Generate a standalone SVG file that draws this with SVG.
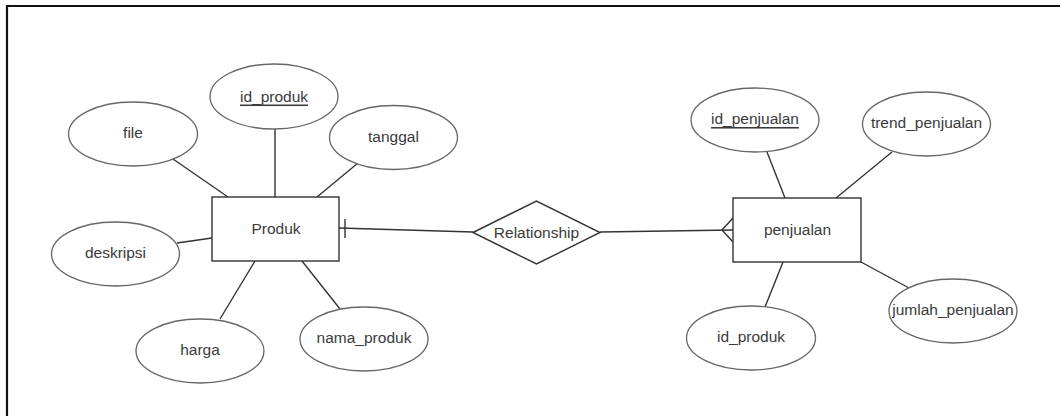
<svg xmlns="http://www.w3.org/2000/svg" width="1060" height="416" viewBox="0 0 1060 416">
<style>
  .frame{stroke:#111;stroke-width:2.2;fill:none}
  .ent{fill:#fff;stroke:#333;stroke-width:1.4}
  .attr{fill:#fff;stroke:#666;stroke-width:1.3}
  .rel{fill:#fff;stroke:#333;stroke-width:1.4}
  .ln{stroke:#333;stroke-width:1.4;fill:none}
  .t{font-family:"Liberation Sans",Arial,sans-serif;font-size:15.5px;fill:#3a3a3a;text-anchor:middle;dominant-baseline:central}
  .u{text-decoration:underline}
</style>
<rect x="0" y="0" width="1060" height="416" fill="#fff"/>
<path class="frame" d="M7,416 V6 H1060"/>
<g id="connectors">
  <line class="ln" x1="173" y1="159" x2="228" y2="197"/>
  <line class="ln" x1="275" y1="129" x2="275" y2="197"/>
  <line class="ln" x1="358" y1="163" x2="317" y2="197"/>
  <line class="ln" x1="177" y1="243" x2="212" y2="238"/>
  <line class="ln" x1="220" y1="319" x2="255" y2="261"/>
  <line class="ln" x1="340" y1="309" x2="302" y2="261"/>
  <line class="ln" x1="339" y1="228" x2="473" y2="232"/>
  <line class="ln" x1="345" y1="219" x2="345" y2="238"/>
  <line class="ln" x1="600" y1="232" x2="733" y2="230"/>
  <path class="ln" d="M733,218 L722,230 L733,242"/>
  <line class="ln" x1="767" y1="152" x2="785" y2="198"/>
  <line class="ln" x1="892" y1="152" x2="836" y2="198"/>
  <line class="ln" x1="765" y1="307" x2="783" y2="262"/>
  <line class="ln" x1="909" y1="288" x2="861" y2="262"/>
</g>
<g id="produk">
  <rect class="ent" x="212" y="197" width="127" height="64"/>
  <text class="t" x="276" y="228">Produk</text>
</g>
<g id="id_produk">
  <ellipse class="attr" cx="274" cy="96.5" rx="64" ry="32.5"/>
  <text class="t u" x="274" y="96">id_produk</text>
</g>
<g id="file">
  <ellipse class="attr" cx="133" cy="134" rx="64.5" ry="32"/>
  <text class="t" x="133" y="132.5">file</text>
</g>
<g id="tanggal">
  <ellipse class="attr" cx="393.5" cy="137.5" rx="64" ry="32"/>
  <text class="t" x="393.5" y="136">tanggal</text>
</g>
<g id="deskripsi">
  <ellipse class="attr" cx="115.5" cy="254" rx="64" ry="32"/>
  <text class="t" x="115.5" y="252.5">deskripsi</text>
</g>
<g id="harga">
  <ellipse class="attr" cx="200" cy="351" rx="64" ry="32"/>
  <text class="t" x="200" y="349.5">harga</text>
</g>
<g id="nama_produk">
  <ellipse class="attr" cx="364" cy="339" rx="64" ry="32"/>
  <text class="t" x="364" y="337.5">nama_produk</text>
</g>
<g id="relationship">
  <polygon class="rel" points="473,232.5 536.5,201 600,232.5 536.5,264"/>
  <text class="t" x="536.5" y="232">Relationship</text>
</g>
<g id="penjualan">
  <rect class="ent" x="733" y="198" width="128" height="64"/>
  <text class="t" x="797.5" y="229">penjualan</text>
</g>
<g id="id_penjualan">
  <ellipse class="attr" cx="755" cy="120" rx="64" ry="32"/>
  <text class="t u" x="755" y="118.5">id_penjualan</text>
</g>
<g id="trend_penjualan">
  <ellipse class="attr" cx="926.5" cy="124" rx="64" ry="32"/>
  <text class="t" x="926.5" y="122.5">trend_penjualan</text>
</g>
<g id="id_produk_penjualan">
  <ellipse class="attr" cx="751" cy="338" rx="64.5" ry="32"/>
  <text class="t" x="751" y="336.5">id_produk</text>
</g>
<g id="jumlah_penjualan">
  <ellipse class="attr" cx="953" cy="311" rx="64" ry="32"/>
  <text class="t" x="953" y="309.5">jumlah_penjualan</text>
</g>
</svg>
